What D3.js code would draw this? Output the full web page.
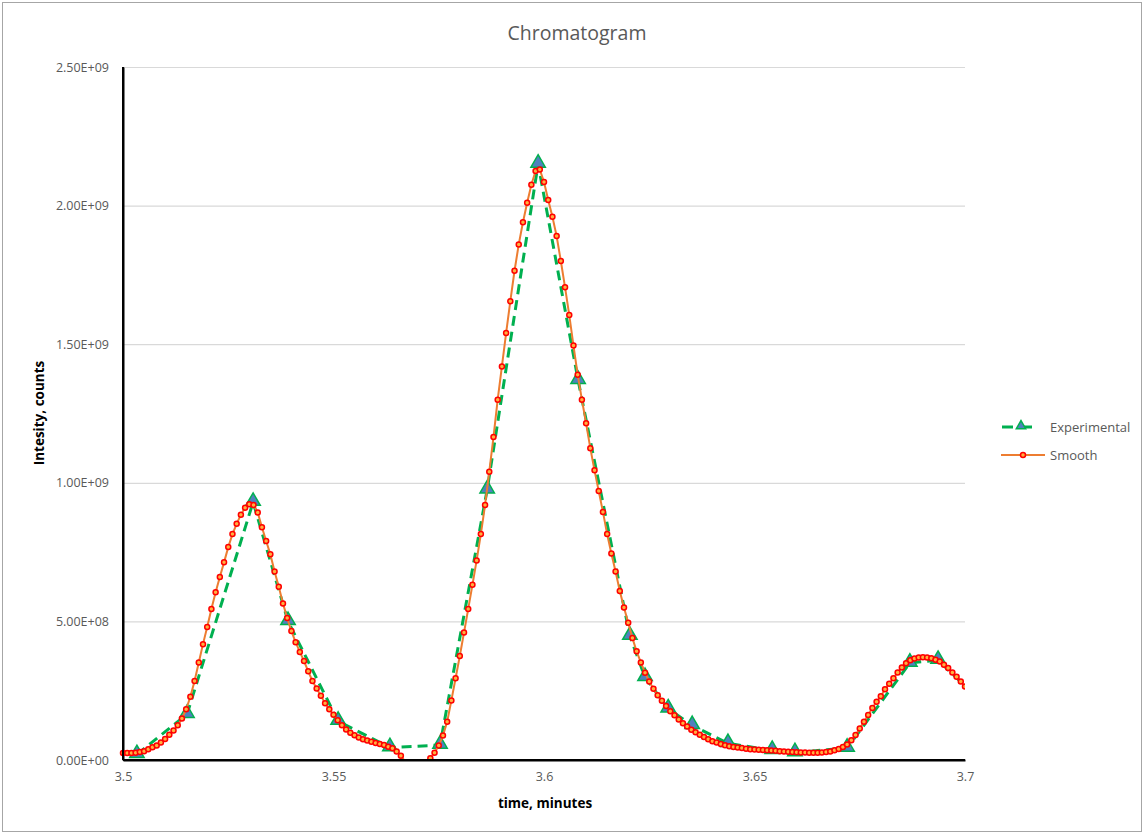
<!DOCTYPE html>
<html>
<head>
<meta charset="utf-8">
<script src="https://cdn.jsdelivr.net/npm/d3@7"></script>
<style>
  html, body { margin: 0; padding: 0; background: #ffffff; }
  svg { display: block; font-family: "Open Sans", "Noto Sans", sans-serif; }
</style>
</head>
<body>
<svg id="chart" width="1144" height="834"></svg>
<script>
// ---------------- DATA ----------------
const chartTitle = "Chromatogram";
const xAxisTitle = "time, minutes";
const yAxisTitle = "Intesity, counts";
const seriesNames = ["Experimental", "Smooth"];

const xTickValues = [3.5, 3.55, 3.6, 3.65, 3.7];
const xTickLabels = ["3.5", "3.55", "3.6", "3.65", "3.7"];
const yTickValues = [0, 5e8, 1e9, 1.5e9, 2e9, 2.5e9];
const yTickLabels = ["0.00E+00", "5.00E+08", "1.00E+09", "1.50E+09", "2.00E+09", "2.50E+09"];

// Experimental (measured) points
const expTime = [3.5033, 3.5152, 3.5309, 3.5392, 3.5511, 3.5634, 3.5753, 3.5865, 3.5986, 3.6081,
                 3.6204, 3.6240, 3.6295, 3.6352, 3.6437, 3.6542, 3.6596, 3.6720, 3.6869, 3.6936, 3.7012];
const expIntensity = [2.0e7, 1.65e8, 9.3e8, 5.0e8, 1.4e8, 4.5e7, 5.4e7, 9.75e8, 2.15e9, 1.37e9,
                      4.47e8, 2.98e8, 1.85e8, 1.25e8, 6.0e7, 3.5e7, 2.7e7, 4.3e7, 3.5e8, 3.6e8, 2.5e8];

// Smoothed curve, one point per 0.001 min
const smoothTime = [
  3.500,3.501,3.502,3.503,3.504,3.505,3.506,3.507,3.508,3.509,
  3.510,3.511,3.512,3.513,3.514,3.515,3.516,3.517,3.518,3.519,
  3.520,3.521,3.522,3.523,3.524,3.525,3.526,3.527,3.528,3.529,
  3.530,3.531,3.532,3.533,3.534,3.535,3.536,3.537,3.538,3.539,
  3.540,3.541,3.542,3.543,3.544,3.545,3.546,3.547,3.548,3.549,
  3.550,3.551,3.552,3.553,3.554,3.555,3.556,3.557,3.558,3.559,
  3.560,3.561,3.562,3.563,3.564,3.565,3.566,3.567,3.568,3.569,
  3.570,3.571,3.572,3.573,3.574,3.575,3.576,3.577,3.578,3.579,
  3.580,3.581,3.582,3.583,3.584,3.585,3.586,3.587,3.588,3.589,
  3.590,3.591,3.592,3.593,3.594,3.595,3.596,3.597,3.598,3.599,
  3.600,3.601,3.602,3.603,3.604,3.605,3.606,3.607,3.608,3.609,
  3.610,3.611,3.612,3.613,3.614,3.615,3.616,3.617,3.618,3.619,
  3.620,3.621,3.622,3.623,3.624,3.625,3.626,3.627,3.628,3.629,
  3.630,3.631,3.632,3.633,3.634,3.635,3.636,3.637,3.638,3.639,
  3.640,3.641,3.642,3.643,3.644,3.645,3.646,3.647,3.648,3.649,
  3.650,3.651,3.652,3.653,3.654,3.655,3.656,3.657,3.658,3.659,
  3.660,3.661,3.662,3.663,3.664,3.665,3.666,3.667,3.668,3.669,
  3.670,3.671,3.672,3.673,3.674,3.675,3.676,3.677,3.678,3.679,
  3.680,3.681,3.682,3.683,3.684,3.685,3.686,3.687,3.688,3.689,
  3.690,3.691,3.692,3.693,3.694,3.695,3.696,3.697,3.698,3.699,
  3.700
];
// values in units of 1e9 counts
const smoothIntensityE9 = [
  0.025,0.025,0.025,0.026,0.029,0.032,0.039,0.046,0.052,0.063,
  0.076,0.091,0.106,0.125,0.150,0.183,0.228,0.285,0.352,0.418,
  0.480,0.545,0.605,0.660,0.713,0.768,0.815,0.852,0.885,0.910,
  0.923,0.920,0.893,0.840,0.790,0.742,0.680,0.625,0.565,0.512,
  0.465,0.425,0.390,0.357,0.320,0.285,0.258,0.232,0.205,0.183,
  0.163,0.143,0.125,0.110,0.098,0.089,0.081,0.075,0.070,0.066,
  0.061,0.058,0.054,0.048,0.042,0.031,0.015,-0.005,-0.035,-0.060,
  -0.070,-0.055,-0.020,0.006,0.026,0.052,0.088,0.138,0.215,0.295,
  0.375,0.460,0.545,0.632,0.720,0.815,0.920,1.040,1.165,1.300,
  1.420,1.540,1.655,1.765,1.860,1.940,2.010,2.075,2.125,2.130,
  2.085,2.020,1.960,1.890,1.800,1.705,1.605,1.495,1.390,1.300,
  1.215,1.125,1.045,0.970,0.895,0.815,0.745,0.680,0.610,0.550,
  0.495,0.440,0.392,0.352,0.315,0.283,0.257,0.234,0.214,0.195,
  0.176,0.161,0.146,0.133,0.121,0.109,0.100,0.091,0.083,0.075,
  0.068,0.063,0.058,0.053,0.050,0.047,0.045,0.043,0.041,0.039,
  0.038,0.037,0.036,0.035,0.034,0.033,0.032,0.031,0.030,0.029,
  0.028,0.027,0.027,0.026,0.026,0.026,0.027,0.029,0.031,0.035,
  0.040,0.047,0.056,0.071,0.090,0.114,0.138,0.162,0.188,0.210,
  0.230,0.255,0.275,0.295,0.316,0.334,0.349,0.360,0.366,0.370,
  0.371,0.370,0.367,0.362,0.355,0.344,0.332,0.316,0.300,0.283,
  0.265
];

// ---------------- LAYOUT ----------------
const W = 1144, H = 834;
const plot = { left: 123, right: 965, top: 67, bottom: 760 };
const colors = {
  expLine: "#00b050", expFill: "#4f81bd",
  smoothLine: "#ed7d31", smoothDot: "#ff0000", smoothDotFill: "#ffb040",
  grid: "#d9d9d9", text: "#595959", axis: "#000000"
};

const svg = d3.select("#chart");

// outer chart border
svg.append("rect")
  .attr("x", 2.5).attr("y", 2.5).attr("width", W - 5).attr("height", H - 5)
  .attr("fill", "#ffffff").attr("stroke", "#a6a6a6").attr("stroke-width", 1);

const x = d3.scaleLinear().domain([3.5, 3.7]).range([plot.left, plot.right]);
const y = d3.scaleLinear().domain([0, 2.5e9]).range([plot.bottom, plot.top]);

// gridlines
const grid = svg.append("g").attr("transform", `translate(${plot.left},0)`)
  .call(d3.axisLeft(y).tickValues(yTickValues).tickSize(-(plot.right - plot.left)).tickFormat(""));
grid.select(".domain").remove();
grid.selectAll(".tick line").attr("stroke", colors.grid).attr("stroke-width", 1.2);

// y axis
const yAxis = svg.append("g").attr("transform", `translate(${plot.left},0)`)
  .call(d3.axisLeft(y).tickValues(yTickValues).tickSize(0).tickPadding(14)
        .tickFormat((d, i) => yTickLabels[i]));
yAxis.select(".domain").attr("stroke", colors.axis).attr("stroke-width", 2);
yAxis.selectAll(".tick text").attr("fill", colors.text)
  .style("font-family", '"Open Sans", sans-serif').style("font-size", "12.5px");

// x axis
const xAxis = svg.append("g").attr("transform", `translate(0,${plot.bottom})`)
  .call(d3.axisBottom(x).tickValues(xTickValues).tickSize(0).tickPadding(12)
        .tickFormat((d, i) => xTickLabels[i]));
xAxis.select(".domain").attr("stroke", colors.axis).attr("stroke-width", 2);
xAxis.selectAll(".tick text").attr("fill", colors.text)
  .style("font-family", '"Open Sans", sans-serif').style("font-size", "12.5px");

// clip path for plot area
svg.append("defs").append("clipPath").attr("id", "plotClip")
  .append("rect").attr("x", plot.left).attr("y", plot.top - 20)
  .attr("width", plot.right - plot.left).attr("height", plot.bottom - plot.top + 20);

const marks = svg.append("g").attr("clip-path", "url(#plotClip)");

// Experimental dashed line
const expData = expTime.map((t, i) => ({ t, v: expIntensity[i] }));
marks.append("path").datum(expData)
  .attr("fill", "none").attr("stroke", colors.expLine).attr("stroke-width", 3)
  .attr("stroke-dasharray", "10,6")
  .attr("d", d3.line().x(d => x(d.t)).y(d => y(d.v)));

// Experimental triangles
const tri = d3.symbol().type(d3.symbolTriangle).size(90);
marks.selectAll(".expMark").data(expData.filter(d => d.t <= 3.7)).enter()
  .append("path").attr("class", "expMark")
  .attr("transform", d => `translate(${x(d.t)},${y(d.v) - 1})`)
  .attr("d", tri)
  .attr("fill", colors.expFill).attr("stroke", colors.expLine).attr("stroke-width", 1.5);

// Smooth line
const smoothData = smoothTime.map((t, i) => ({ t, v: smoothIntensityE9[i] * 1e9 }));
svg.append("defs").append("clipPath").attr("id", "lineClip")
  .append("rect").attr("x", plot.left - 5).attr("y", plot.top - 20)
  .attr("width", plot.right - plot.left + 5).attr("height", plot.bottom - plot.top + 20);
const smoothG = svg.append("g").attr("clip-path", "url(#lineClip)");
smoothG.append("path").datum(smoothData)
  .attr("fill", "none").attr("stroke", colors.smoothLine).attr("stroke-width", 2)
  .attr("d", d3.line().x(d => x(d.t)).y(d => y(d.v)));
smoothG.selectAll(".smoothDot").data(smoothData.filter(d => d.v >= 0)).enter()
  .append("circle").attr("class", "smoothDot")
  .attr("cx", d => x(d.t)).attr("cy", d => y(d.v)).attr("r", 2.5)
  .attr("fill", colors.smoothDotFill).attr("stroke", colors.smoothDot).attr("stroke-width", 1.5);

// redraw axis lines on top
svg.append("line").attr("x1", plot.left).attr("x2", plot.right)
  .attr("y1", plot.bottom).attr("y2", plot.bottom).attr("stroke", colors.axis).attr("stroke-width", 2);
svg.append("line").attr("x1", plot.left).attr("x2", plot.left)
  .attr("y1", plot.top).attr("y2", plot.bottom).attr("stroke", colors.axis).attr("stroke-width", 2);

// Title
svg.append("text").attr("x", 577).attr("y", 40).attr("text-anchor", "middle")
  .attr("fill", colors.text).style("font-size", "19.5px").text(chartTitle);

// Axis titles
svg.append("text").attr("x", 545).attr("y", 808).attr("text-anchor", "middle")
  .attr("fill", "#000").style("font-size", "13.5px").style("font-weight", "bold").text(xAxisTitle);
svg.append("text").attr("transform", "translate(44,413) rotate(-90)").attr("text-anchor", "middle")
  .attr("fill", "#000").style("font-size", "13.5px").style("font-weight", "bold").text(yAxisTitle);

// Legend
const leg = svg.append("g");
const legTri = d3.symbol().type(d3.symbolTriangle).size(38);
leg.append("line").attr("x1", 1002).attr("x2", 1036).attr("y1", 427).attr("y2", 427)
  .attr("stroke", colors.expLine).attr("stroke-width", 3).attr("stroke-dasharray", "11,8");
leg.append("path").attr("transform", "translate(1021,426)").attr("d", legTri)
  .attr("fill", colors.expFill).attr("stroke", colors.expLine).attr("stroke-width", 1.5);
leg.append("text").attr("x", 1050).attr("y", 431.5).attr("fill", colors.text)
  .style("font-size", "13px").text(seriesNames[0]);
leg.append("line").attr("x1", 1001).attr("x2", 1045).attr("y1", 455).attr("y2", 455)
  .attr("stroke", colors.smoothLine).attr("stroke-width", 2);
leg.append("circle").attr("cx", 1023).attr("cy", 455).attr("r", 2.5)
  .attr("fill", colors.smoothDotFill).attr("stroke", colors.smoothDot).attr("stroke-width", 1.5);
leg.append("text").attr("x", 1050).attr("y", 459.5).attr("fill", colors.text)
  .style("font-size", "13px").text(seriesNames[1]);
</script>
</body>
</html>
